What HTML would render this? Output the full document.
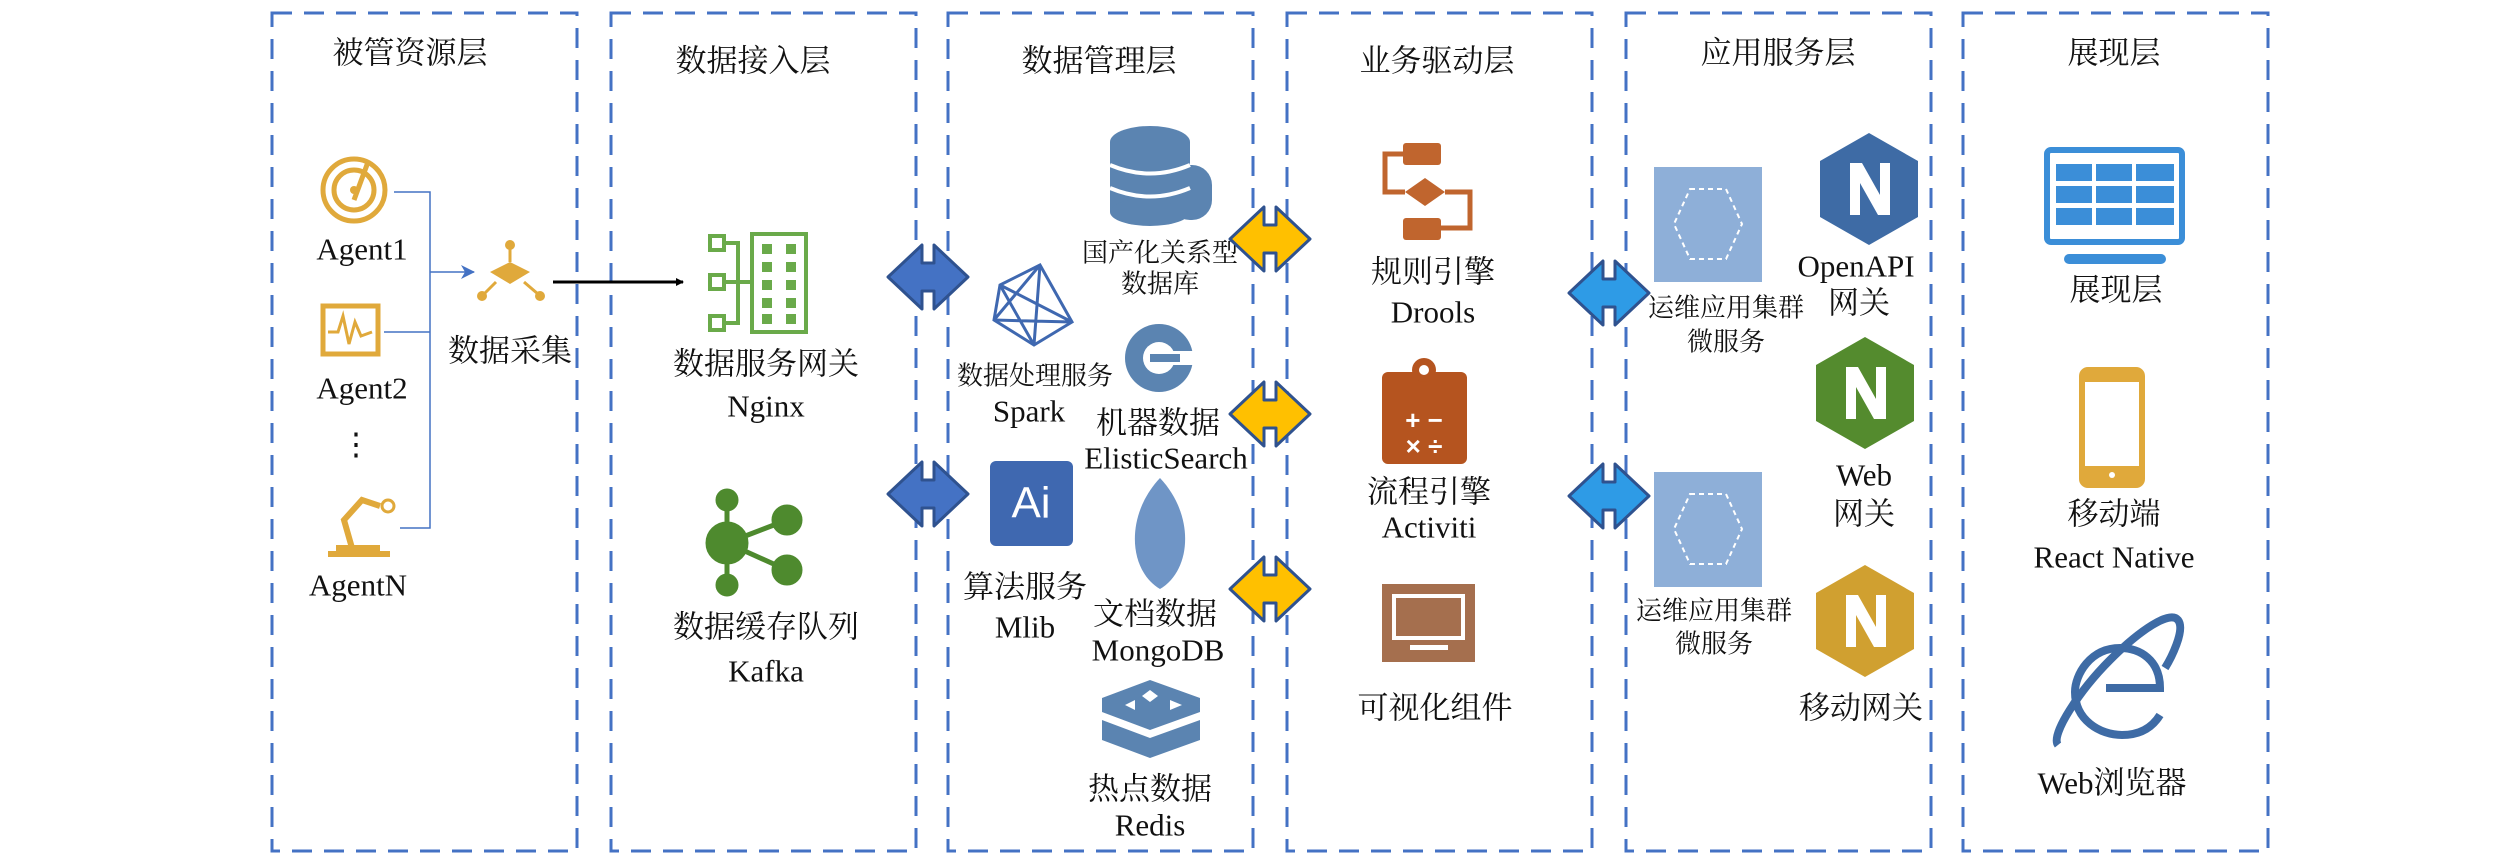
<!DOCTYPE html>
<html><head><meta charset="utf-8"><style>
html,body{margin:0;padding:0;background:#fff;}
svg{display:block;}
text{font-family:"Liberation Serif","Noto Serif CJK SC",serif;fill:#111;text-anchor:middle;dominant-baseline:central;}
.t{font-size:31px}.m{font-size:31px}.s{font-size:26px}
</style></head><body>
<svg width="2520" height="868" viewBox="0 0 2520 868" xmlns="http://www.w3.org/2000/svg">
<defs>
<marker id="ab" markerWidth="8" markerHeight="8" refX="7" refY="4" orient="auto" markerUnits="userSpaceOnUse"><path d="M0,0 L8,4 L0,8 z" fill="#000"/></marker>
<marker id="ablu" markerWidth="14" markerHeight="14" refX="13" refY="7" orient="auto" markerUnits="userSpaceOnUse"><path d="M0,0 L14,7 L0,14 L4,7 z" fill="#4472C4"/></marker>
<g id="dbl"><polygon points="0,32 34,0 34,18 46,18 46,0 80,32 46,64 46,46 34,46 34,64" stroke-width="3" stroke-linejoin="round"/></g>
<g id="nhex"><polygon points="49,0 98,28 98,84 49,112 0,84 0,28"/><path d="M30,82 V30 H42 L60,62 V30 H70 V82 H58 L40,50 V82 Z" fill="#fff"/></g>
<g id="sq"><rect x="0" y="0" width="108" height="115" fill="#8EAFD8"/><polygon points="36,22 72,22 88,57 72,92 36,92 20,57" fill="none" stroke="#fff" stroke-width="2" stroke-dasharray="5,4"/></g>
</defs>
<g fill="none" stroke="#4472C4" stroke-width="3" stroke-dasharray="20,12">
<rect x="272" y="13" width="305" height="838"/>
<rect x="611" y="13" width="305" height="838"/>
<rect x="948" y="13" width="305" height="838"/>
<rect x="1287" y="13" width="305" height="838"/>
<rect x="1626" y="13" width="305" height="838"/>
<rect x="1963" y="13" width="305" height="838"/>
</g>
<text class="t" x="410" y="53">被管资源层</text>
<text class="t" x="753" y="61">数据接入层</text>
<text class="t" x="1099" y="61">数据管理层</text>
<text class="t" x="1437" y="61">业务驱动层</text>
<text class="t" x="1778" y="53">应用服务层</text>
<text class="t" x="2114" y="53">展现层</text>

<!-- box1 -->
<g fill="none" stroke="#E0A93B" stroke-width="5">
<circle cx="354" cy="190" r="31"/><circle cx="354" cy="190" r="20"/><line x1="354" y1="200" x2="368" y2="162"/>
<rect x="323" y="306" width="55" height="48"/><polyline points="328,332 338,332 343,316 349,344 355,322 361,336 372,332" stroke-width="3"/>
<path d="M328,554 H390 M336,548 H380 M352,548 L344,520 L362,500 L380,506" stroke-width="6"/><circle cx="388" cy="506" r="6" stroke-width="3"/>
</g>
<circle cx="354" cy="190" r="4" fill="#E0A93B"/>
<text class="m" x="362" y="249">Agent1</text>
<text class="m" x="362" y="388">Agent2</text>
<text class="m" x="356" y="444">⋮</text>
<text class="m" x="358" y="585">AgentN</text>
<g fill="none" stroke="#4472C4" stroke-width="1.5">
<polyline points="394,192 430,192 430,528 400,528"/><line x1="384" y1="332" x2="430" y2="332"/>
<line x1="430" y1="272" x2="474" y2="272" marker-end="url(#ablu)"/>
</g>
<g fill="#E0A93B"><polygon points="510,262 530,272 510,284 490,272"/><circle cx="510" cy="245" r="5"/><circle cx="482" cy="296" r="5"/><circle cx="540" cy="296" r="5"/>
<line x1="510" y1="248" x2="510" y2="262" stroke="#E0A93B" stroke-width="3"/><line x1="484" y1="294" x2="496" y2="282" stroke="#E0A93B" stroke-width="3"/><line x1="538" y1="294" x2="524" y2="282" stroke="#E0A93B" stroke-width="3"/></g>
<text class="m" x="510" y="351">数据采集</text>
<line x1="553" y1="282" x2="683" y2="282" stroke="#000" stroke-width="3" marker-end="url(#ab)"/>

<!-- box2 -->
<g fill="none" stroke="#6AAA4A" stroke-width="4">
<rect x="710" y="236" width="14" height="14"/><rect x="710" y="275" width="14" height="14"/><rect x="710" y="316" width="14" height="14"/>
<path d="M724,243 H738 V323 H724 M724,282 H752"/><rect x="752" y="234" width="54" height="98"/>
</g>
<g fill="#6AAA4A"><rect x="762" y="244" width="10" height="10"/><rect x="786" y="244" width="10" height="10"/><rect x="762" y="262" width="10" height="10"/><rect x="786" y="262" width="10" height="10"/><rect x="762" y="280" width="10" height="10"/><rect x="786" y="280" width="10" height="10"/><rect x="762" y="298" width="10" height="10"/><rect x="786" y="298" width="10" height="10"/><rect x="762" y="314" width="10" height="10"/><rect x="786" y="314" width="10" height="10"/></g>
<text class="m" x="766" y="364">数据服务网关</text>
<text class="m" x="766" y="406">Nginx</text>
<g fill="#4E8A2E" stroke="#4E8A2E" stroke-width="5"><line x1="727" y1="500" x2="727" y2="585"/><line x1="727" y1="543" x2="787" y2="520"/><line x1="727" y1="543" x2="787" y2="570"/>
<circle cx="727" cy="543" r="19"/><circle cx="727" cy="500" r="9"/><circle cx="727" cy="585" r="9"/><circle cx="787" cy="520" r="13"/><circle cx="787" cy="570" r="13"/></g>
<text class="m" x="766" y="627">数据缓存队列</text>
<text class="m" x="766" y="671">Kafka</text>
<use href="#dbl" x="888" y="245" fill="#4472C4" stroke="#2F528F"/>
<use href="#dbl" x="888" y="462" fill="#4472C4" stroke="#2F528F"/>

<!-- box3 -->
<g fill="#5B84B1"><ellipse cx="1150" cy="142" rx="40" ry="16"/><rect x="1110" y="142" width="80" height="70"/><ellipse cx="1150" cy="212" rx="40" ry="14"/><rect x="1170" y="165" width="42" height="55" rx="20"/></g>
<g stroke="#fff" stroke-width="4" fill="none"><path d="M1110,165 Q1150,182 1190,165 M1110,188 Q1150,205 1190,188"/></g>
<text class="s" x="1160" y="253">国产化关系型</text>
<text class="s" x="1160" y="284">数据库</text>
<g fill="none" stroke="#3F68B0" stroke-width="3"><polygon points="1040,265 1072,322 1034,345 994,320 1000,285"/><path d="M1040,265 L994,320 M1040,265 L1034,345 M1000,285 L1072,322 M1000,285 L1034,345 M994,320 L1072,322"/></g>
<text class="s" x="1035" y="376">数据处理服务</text>
<text class="m" x="1029" y="411">Spark</text>
<circle cx="1159" cy="358" r="34" fill="#5B84B1"/><rect x="1150" y="351" width="44" height="14" fill="#fff"/><circle cx="1159" cy="358" r="16" fill="#fff"/><rect x="1150" y="354" width="30" height="8" fill="#5B84B1"/>
<text class="m" x="1158" y="423">机器数据</text>
<text class="m" x="1166" y="458">ElisticSearch</text>
<rect x="990" y="461" width="83" height="85" rx="6" fill="#3F68B0"/>
<text x="1031" y="503" style="font-family:'Liberation Sans',sans-serif;font-size:44px;fill:#fff">Ai</text>
<text class="m" x="1025" y="587">算法服务</text>
<text class="m" x="1025" y="627">Mlib</text>
<path d="M1160,478 C1195,515 1192,570 1160,589 C1128,570 1125,515 1160,478 Z" fill="#6F95C6"/>
<text class="m" x="1155" y="614">文档数据</text>
<text class="m" x="1158" y="650">MongoDB</text>
<g fill="#5B84B1"><polygon points="1102,698 1150,680 1200,698 1200,712 1150,730 1102,712"/><polygon points="1102,720 1150,738 1200,720 1200,740 1150,758 1102,740"/></g>
<g fill="#fff"><polygon points="1150,690 1158,696 1150,702 1142,696"/><polygon points="1125,705 1135,700 1135,710"/><polygon points="1170,700 1182,705 1170,710"/></g>
<text class="m" x="1150" y="789">热点数据</text>
<text class="m" x="1150" y="825">Redis</text>
<use href="#dbl" x="1230" y="207" fill="#FFC000" stroke="#2F528F"/>
<use href="#dbl" x="1230" y="382" fill="#FFC000" stroke="#2F528F"/>
<use href="#dbl" x="1230" y="557" fill="#FFC000" stroke="#2F528F"/>

<!-- box4 -->
<g fill="#C0652E"><rect x="1403" y="143" width="38" height="22" rx="3"/><polygon points="1425,178 1445,192 1425,206 1405,192"/><rect x="1403" y="218" width="38" height="22" rx="3"/></g>
<g fill="none" stroke="#C0652E" stroke-width="5"><path d="M1403,154 H1385 V192 H1405 M1445,192 H1470 V228 H1441"/></g>
<text class="m" x="1433" y="272">规则引擎</text>
<text class="m" x="1433" y="312">Drools</text>
<rect x="1382" y="372" width="85" height="92" rx="6" fill="#B5541F"/><circle cx="1424" cy="370" r="12" fill="#B5541F"/><circle cx="1424" cy="370" r="5" fill="#fff"/>
<text x="1424" y="420" style="font-family:'Liberation Sans',sans-serif;font-size:26px;fill:#fff;font-weight:bold">+ −</text>
<text x="1424" y="446" style="font-family:'Liberation Sans',sans-serif;font-size:26px;fill:#fff;font-weight:bold">× ÷</text>
<text class="m" x="1429" y="492">流程引擎</text>
<text class="m" x="1429" y="527">Activiti</text>
<rect x="1382" y="584" width="93" height="78" fill="#A56F4E"/><rect x="1392" y="594" width="73" height="46" fill="#fff"/><rect x="1396" y="598" width="65" height="38" fill="#A56F4E"/><rect x="1410" y="645" width="38" height="5" fill="#fff"/>
<text class="m" x="1435" y="708">可视化组件</text>
<use href="#dbl" x="1569" y="261" fill="#2E9BE6" stroke="#2F528F"/>
<use href="#dbl" x="1569" y="464" fill="#2E9BE6" stroke="#2F528F"/>

<!-- box5 -->
<use href="#sq" x="1654" y="167"/>
<use href="#sq" x="1654" y="472"/>
<text class="s" x="1726" y="308">运维应用集群</text>
<text class="s" x="1726" y="342">微服务</text>
<text class="s" x="1714" y="611">运维应用集群</text>
<text class="s" x="1714" y="644">微服务</text>
<use href="#nhex" x="1820" y="133" fill="#3E6BA5"/>
<use href="#nhex" x="1816" y="337" fill="#548B2E"/>
<use href="#nhex" x="1816" y="565" fill="#D0A030"/>
<text class="m" x="1856" y="266">OpenAPI</text>
<text class="m" x="1859" y="303">网关</text>
<text class="m" x="1864" y="475">Web</text>
<text class="m" x="1864" y="514">网关</text>
<text class="m" x="1861" y="708">移动网关</text>

<!-- box6 -->
<rect x="2047" y="150" width="135" height="92" rx="4" fill="#fff" stroke="#3B8ED8" stroke-width="6"/>
<g fill="#3B8ED8"><rect x="2056" y="164" width="36" height="17"/><rect x="2096" y="164" width="36" height="17"/><rect x="2136" y="164" width="38" height="17"/>
<rect x="2056" y="186" width="36" height="17"/><rect x="2096" y="186" width="36" height="17"/><rect x="2136" y="186" width="38" height="17"/>
<rect x="2056" y="208" width="36" height="17"/><rect x="2096" y="208" width="36" height="17"/><rect x="2136" y="208" width="38" height="17"/>
<rect x="2064" y="254" width="102" height="10" rx="5"/></g>
<text class="m" x="2116" y="290">展现层</text>
<rect x="2082" y="370" width="60" height="115" rx="6" fill="#fff" stroke="#E0A93B" stroke-width="6"/><rect x="2082" y="370" width="60" height="12" fill="#E0A93B"/><rect x="2082" y="466" width="60" height="18" fill="#E0A93B"/><circle cx="2112" cy="475" r="3" fill="#fff"/>
<text class="m" x="2114" y="514">移动端</text>
<text class="m" x="2114" y="557">React Native</text>
<g fill="none" stroke="#3E6BA5" stroke-width="8"><path d="M2106,688 H2160 C2160,660 2140,648 2120,648 C2090,648 2075,675 2075,692 C2075,720 2100,735 2122,735 C2140,735 2152,728 2160,715"/><path d="M2058,745 C2050,735 2080,690 2110,660 C2140,630 2170,610 2178,620 C2186,630 2170,660 2165,668"/></g>
<text class="m" x="2112" y="783">Web浏览器</text>
</svg>
</body></html>
